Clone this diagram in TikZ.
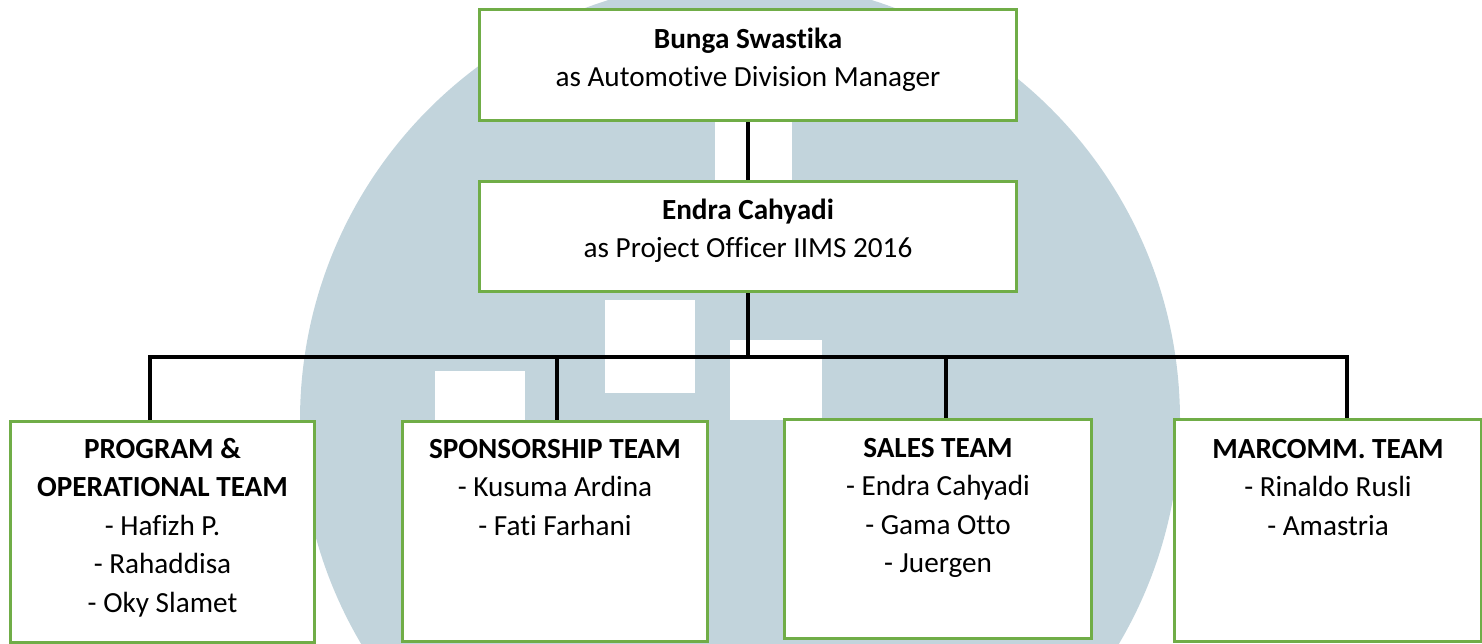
\documentclass[tikz,border=0pt]{standalone}
\usepackage{fontspec}
\setmainfont{Carlito}[Ligatures=NoCommon]
\definecolor{wm}{RGB}{194,212,220}
\definecolor{boxgreen}{RGB}{112,173,71}
\tikzset{
  orgbox/.style={draw=boxgreen, line width=1.5pt, fill=white, rectangle, inner sep=0pt, anchor=north west},
  orgtext/.style={anchor=north, inner sep=0pt, align=center, font=\fontsize{14.6}{19.25}\selectfont},
  conn/.style={draw=black, line width=1.8pt},
}
\begin{document}
\begin{tikzpicture}[x=0.5pt,y=-0.5pt]
\useasboundingbox (0,0) rectangle (1482,643);
% watermark
\begin{scope}
  \clip (0,0) rectangle (1482,643);
  \fill[wm] (740,420) circle [radius=220pt];
  \fill[white] (605,300) rectangle (695,393);
  \fill[white] (435,371) rectangle (525,420);
  \fill[white] (730,340) rectangle (822,420);
  \fill[white] (715,119) rectangle (792,180);
\end{scope}
% boxes
\node[orgbox, minimum width=268.5pt, minimum height=55.5pt] (top) at (478,8) {};
\node[orgbox, minimum width=268.5pt, minimum height=55pt] (mid) at (478,180) {};
\node[orgbox, minimum width=152pt, minimum height=110.5pt] (b1) at (9,420) {};
\node[orgbox, minimum width=152.5pt, minimum height=110pt] (b2) at (401,420) {};
\node[orgbox, minimum width=153.5pt, minimum height=109.5pt] (b3) at (783,418) {};
\node[orgbox, minimum width=153.5pt, minimum height=111pt] (b4) at (1173,418) {};
% texts
\node[orgtext] (ttop) at (top.north) {\rule{0pt}{20pt}\textbf{Bunga Swastika}\\as Automotive Division Manager};
\node[orgtext] (tmid) at (mid.north) {\rule{0pt}{19.5pt}\textbf{Endra Cahyadi}\\as Project Officer IIMS 2016};
\node[orgtext] (t1) at (b1.north) {\rule{0pt}{19pt}\textbf{PROGRAM \&}\\\textbf{OPERATIONAL TEAM}\\- Hafizh P.\\- Rahaddisa\\- Oky Slamet};
\node[orgtext] (t2) at (b2.north) {\rule{0pt}{19pt}\textbf{SPONSORSHIP TEAM}\\- Kusuma Ardina\\- Fati Farhani};
\node[orgtext] (t3) at (b3.north) {\rule{0pt}{19.5pt}\textbf{SALES TEAM}\\- Endra Cahyadi\\- Gama Otto\\- Juergen};
\node[orgtext] (t4) at (b4.north) {\rule{0pt}{20pt}\textbf{MARCOMM. TEAM}\\- Rinaldo Rusli\\- Amastria};
% connectors
\coordinate (busL) at (150,357);
\coordinate (busR) at (1347,357);
\coordinate (d2) at (557,357);
\coordinate (d3) at (946,357);
\draw[conn] (top.south) -- (mid.north);
\draw[conn] (mid.south) -- (mid.south |- busL);
\draw[conn] (b1.north -| busL) -- (busL) -- (busR) -- (b4.north -| busR);
\draw[conn] (d2) -- (d2 |- b2.north);
\draw[conn] (d3) -- (d3 |- b3.north);
\end{tikzpicture}
\end{document}
